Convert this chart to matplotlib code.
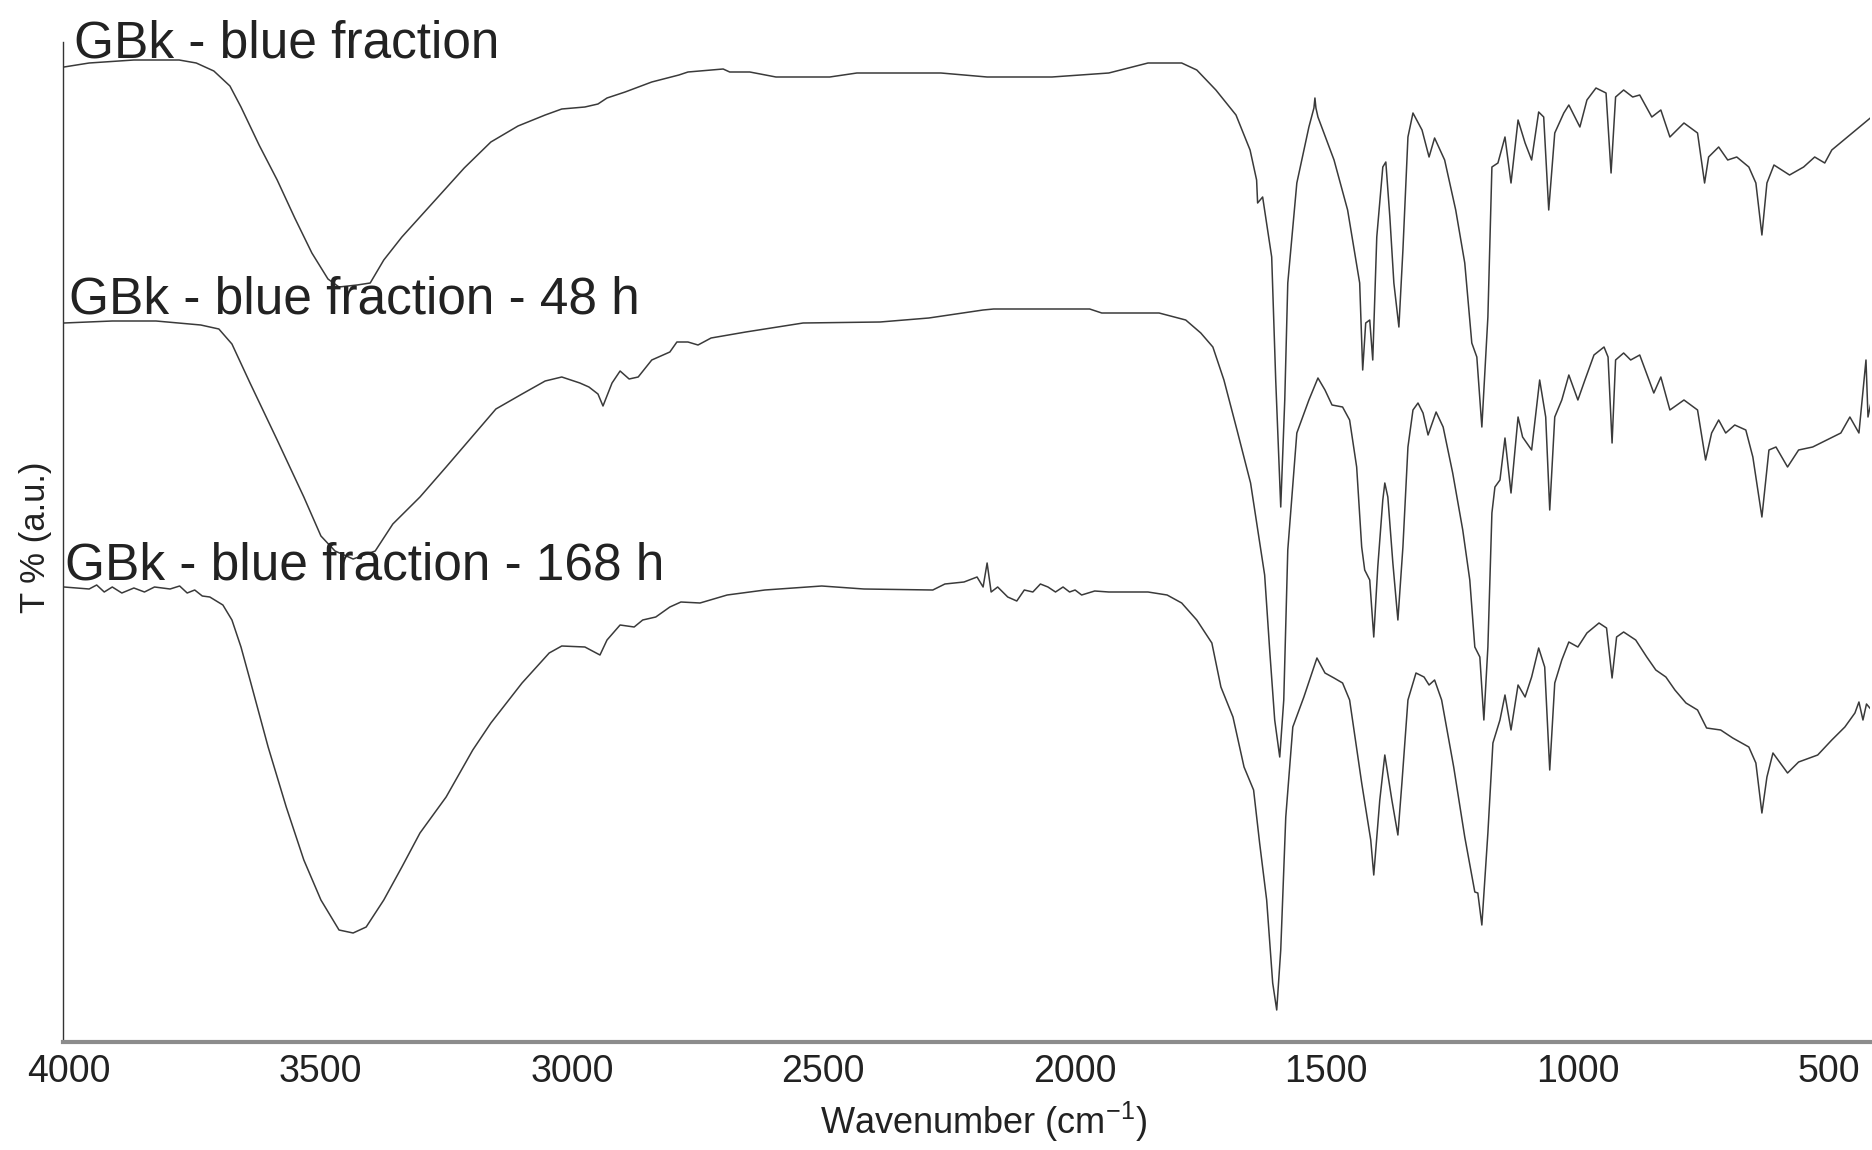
import matplotlib
matplotlib.use("Agg")
import matplotlib.pyplot as plt

plt.rcParams['font.family'] = ['Liberation Sans', 'DejaVu Sans']
plt.rcParams['mathtext.default'] = 'regular'

# FTIR spectra (wavenumber in cm-1, T in arbitrary units)
wn_fresh = [4010, 3960, 3871, 3781, 3747, 3712, 3680, 3658, 3622, 3586, 3551, 3517, 3485, 3463,
            3427, 3401, 3374, 3338, 3284, 3214, 3161, 3107, 3053, 3020, 2974, 2948, 2930, 2894,
            2841, 2787, 2769, 2699, 2686, 2646, 2594, 2487, 2433, 2266, 2174, 2045, 1932, 1854,
            1787, 1757, 1719, 1679, 1651, 1638, 1636, 1626, 1608, 1600, 1590, 1582, 1576, 1558,
            1534, 1524, 1522, 1520, 1516, 1484, 1457, 1433, 1427, 1421, 1413, 1407, 1399, 1387,
            1381, 1373, 1365, 1355, 1347, 1337, 1327, 1309, 1295, 1284, 1264, 1242, 1224, 1210,
            1200, 1190, 1178, 1170, 1158, 1144, 1132, 1118, 1104, 1091, 1077, 1067, 1057, 1045,
            1027, 1017, 995, 981, 963, 943, 933, 924, 908, 890, 876, 852, 834, 816, 788, 761,
            747, 739, 719, 701, 683, 659, 645, 633, 623, 609, 578, 550, 528, 508, 494, 415]
t_fresh = [97.5, 97.9, 98.2, 98.2, 97.9, 97.1, 95.6, 93.5, 89.7, 86.2, 82.4, 78.9, 76.3, 75.5,
           75.7, 75.9, 78.2, 80.5, 83.5, 87.4, 90.0, 91.6, 92.7, 93.3, 93.5, 93.8, 94.4, 95.0,
           96.0, 96.7, 97.0, 97.3, 97.0, 97.0, 96.5, 96.5, 96.9, 96.9, 96.5, 96.5, 96.9, 97.9,
           97.9, 97.2, 95.2, 92.7, 89.2, 86.2, 83.9, 84.5, 78.5, 66.2, 53.5, 64.2, 75.9, 85.9,
           91.5, 93.4, 94.4, 93.4, 92.5, 88.2, 83.2, 75.9, 67.2, 71.9, 72.2, 68.2, 80.5, 87.5,
           88.0, 82.5, 75.9, 71.5, 79.2, 90.5, 92.9, 91.2, 88.5, 90.4, 88.2, 83.2, 77.9, 69.9,
           68.5, 61.5, 72.5, 87.5, 87.9, 90.5, 85.9, 92.2, 89.9, 88.2, 93.0, 92.5, 83.2, 90.9,
           92.9, 93.7, 91.5, 94.2, 95.4, 94.9, 86.9, 94.5, 95.2, 94.5, 94.7, 92.5, 93.2, 90.5,
           91.9, 90.9, 85.9, 88.5, 89.5, 88.2, 88.5, 87.5, 85.9, 80.7, 85.9, 87.7, 86.7, 87.5,
           88.5, 87.9, 89.2, 92.5]

wn_48h = [4010, 3914, 3827, 3738, 3702, 3676, 3640, 3586, 3533, 3499, 3471, 3435, 3391, 3356,
          3302, 3250, 3197, 3151, 3099, 3053, 3020, 2984, 2966, 2948, 2938, 2920, 2904, 2886,
          2868, 2841, 2805, 2791, 2769, 2749, 2723, 2654, 2540, 2387, 2290, 2182, 2161, 1970,
          1946, 1894, 1832, 1779, 1749, 1725, 1703, 1677, 1650, 1632, 1622, 1612, 1602, 1592,
          1584, 1576, 1558, 1534, 1516, 1502, 1488, 1467, 1453, 1439, 1429, 1423, 1413, 1405,
          1397, 1387, 1383, 1377, 1367, 1357, 1347, 1337, 1327, 1317, 1307, 1297, 1281, 1267,
          1248, 1228, 1214, 1204, 1194, 1186, 1178, 1170, 1164, 1154, 1144, 1132, 1118, 1109,
          1091, 1075, 1063, 1055, 1045, 1031, 1017, 999, 985, 967, 947, 939, 931, 924, 908,
          894, 876, 848, 834, 816, 788, 761, 745, 733, 719, 705, 687, 665, 651, 633, 619, 605,
          582, 560, 532, 504, 476, 458, 440, 426, 422, 415]
t_48h = [71.9, 72.1, 72.1, 71.7, 71.3, 69.8, 65.9, 60.2, 54.5, 50.6, 49.1, 48.3, 49.1, 51.8,
         54.5, 57.5, 60.6, 63.3, 64.8, 66.1, 66.5, 65.9, 65.5, 64.8, 63.6, 65.9, 67.1, 66.3,
         66.5, 68.2, 69.0, 70.0, 70.0, 69.7, 70.4, 71.0, 71.9, 72.0, 72.4, 73.2, 73.3, 73.3,
         72.9, 72.9, 72.9, 72.2, 70.9, 69.5, 66.2, 61.2, 55.9, 50.0, 46.7, 39.2, 32.2, 28.5,
         34.2, 49.2, 60.9, 64.2, 66.4, 65.2, 63.7, 63.5, 62.2, 57.5, 49.5, 47.2, 46.2, 40.5,
         47.5, 54.2, 55.9, 54.5, 47.9, 42.2, 49.5, 59.5, 63.2, 63.9, 62.9, 60.7, 63.0, 61.5,
         56.9, 51.2, 46.2, 39.5, 38.5, 32.2, 39.5, 52.9, 55.5, 56.2, 60.4, 54.9, 62.5, 60.5,
         59.2, 66.2, 62.5, 53.2, 62.5, 64.2, 66.7, 64.2, 66.2, 68.7, 69.5, 68.5, 59.9, 68.2,
         68.9, 68.2, 68.7, 64.9, 66.5, 63.2, 64.2, 63.2, 58.2, 60.9, 62.2, 60.9, 61.7, 61.2,
         58.5, 52.5, 59.2, 59.5, 57.5, 59.2, 59.5, 60.2, 60.9, 62.5, 60.9, 68.2, 62.5, 64.2]

wn_168h = [4010, 3960, 3945, 3930, 3914, 3895, 3871, 3850, 3830, 3799, 3780, 3765, 3750, 3735,
           3720, 3694, 3676, 3658, 3640, 3604, 3568, 3533, 3499, 3463, 3435, 3409, 3374, 3338,
           3302, 3250, 3197, 3161, 3099, 3045, 3020, 2974, 2944, 2930, 2904, 2876, 2859, 2833,
           2805, 2783, 2745, 2691, 2616, 2503, 2419, 2282, 2258, 2220, 2194, 2182, 2174, 2166,
           2153, 2133, 2115, 2100, 2083, 2068, 2053, 2038, 2023, 2010, 1999, 1986, 1960, 1932,
           1854, 1816, 1787, 1757, 1727, 1709, 1685, 1663, 1644, 1632, 1618, 1606, 1598, 1590,
           1580, 1566, 1544, 1518, 1502, 1484, 1467, 1453, 1429, 1411, 1405, 1393, 1383, 1369,
           1357, 1349, 1337, 1321, 1305, 1295, 1284, 1270, 1246, 1224, 1204, 1198, 1190, 1178,
           1168, 1154, 1144, 1132, 1118, 1104, 1091, 1077, 1065, 1055, 1045, 1031, 1017, 999,
           981, 957, 942, 931, 922, 908, 884, 862, 844, 824, 806, 784, 761, 743, 715, 691, 659,
           645, 633, 623, 611, 582, 560, 522, 494, 468, 448, 440, 432, 425, 415]
t_168h = [45.5, 45.3, 45.7, 45.0, 45.5, 44.9, 45.4, 45.0, 45.5, 45.3, 45.6, 44.9, 45.2, 44.6,
          44.5, 43.7, 42.2, 39.5, 36.2, 29.5, 23.5, 18.2, 14.2, 11.2, 10.9, 11.5, 14.2, 17.5,
          20.9, 24.5, 29.2, 31.9, 35.9, 38.9, 39.6, 39.5, 38.7, 40.2, 41.7, 41.5, 42.2, 42.5,
          43.5, 44.0, 43.9, 44.7, 45.2, 45.6, 45.3, 45.2, 45.8, 46.0, 46.5, 45.5, 47.9, 45.0,
          45.5, 44.5, 44.1, 45.2, 45.0, 45.8, 45.5, 45.0, 45.5, 45.0, 45.2, 44.7, 45.1, 45.0,
          45.0, 44.7, 43.9, 42.2, 39.9, 35.5, 32.5, 27.5, 25.2, 19.9, 14.2, 5.9, 3.2, 9.2,
          22.5, 31.5, 34.5, 38.4, 36.9, 36.4, 35.9, 34.2, 25.9, 20.2, 16.7, 24.2, 28.7, 24.2,
          20.7, 25.9, 34.2, 36.9, 36.5, 35.7, 36.2, 34.2, 27.5, 20.5, 15.0, 14.9, 11.7, 20.9,
          29.9, 32.2, 34.7, 31.2, 35.7, 34.5, 36.5, 39.4, 37.5, 27.2, 35.9, 38.2, 40.0, 39.5,
          40.9, 41.9, 41.4, 36.4, 40.5, 41.0, 40.2, 38.5, 37.2, 36.5, 35.2, 33.9, 33.2, 31.4,
          31.2, 30.4, 29.5, 27.9, 22.9, 26.5, 28.9, 26.9, 28.0, 28.7, 30.2, 31.5, 32.9, 34.0,
          32.2, 33.8, 33.2]

series_labels = ["GBk - blue fraction", "GBk - blue fraction - 48 h", "GBk - blue fraction - 168 h"]
x_ticks = [4000, 3500, 3000, 2500, 2000, 1500, 1000, 500]

W, H = 1872, 1150
fig = plt.figure(figsize=(W / 100, H / 100), dpi=100)
ax = fig.add_axes([63 / W, 1 - 1042 / H, 1807 / W, 1000 / H])

line_color = '#3a3a3a'
for wn, t in [(wn_fresh, t_fresh), (wn_48h, t_48h), (wn_168h, t_168h)]:
    ax.plot(wn, t, color=line_color, lw=1.1)

ax.set_xlim(4012, 418)
ax.set_ylim(0, 100)
ax.set_xticks(x_ticks)
ax.set_yticks([])
ax.tick_params(axis='x', length=0, pad=9, labelsize=27, labelcolor='#222222')

for side in ['top', 'right']:
    ax.spines[side].set_visible(False)
ax.spines['left'].set_color('#333333')
ax.spines['left'].set_linewidth(1.0)
ax.spines['bottom'].set_color('#8c8c8c')
ax.spines['bottom'].set_linewidth(3.0)

# curve labels
label_pos = [(74, 57), (69, 314), (65, 580)]
for text, (px, py) in zip(series_labels, label_pos):
    fig.text(px / W, 1 - py / H, text, fontsize=37, color='#222222',
             ha='left', va='baseline')

fig.text(36 / W, 1 - 537 / H, 'T % (a.u.)', rotation=90, fontsize=25,
         color='#222222', ha='center', va='center')
fig.text(984 / W, 1 - 1122 / H, 'Wavenumber (cm$^{-1}$)', fontsize=26,
         color='#222222', ha='center', va='center')

fig.savefig('out.png', dpi=100)
